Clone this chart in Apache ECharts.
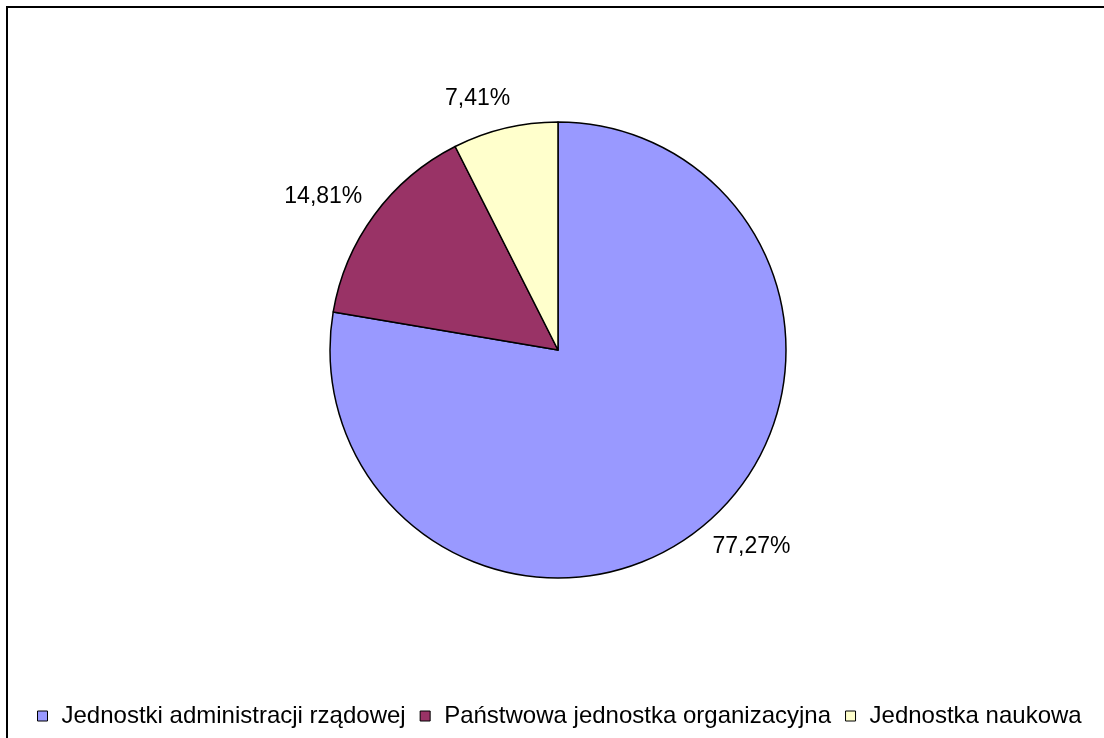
<!DOCTYPE html>
<html>
<head>
<meta charset="utf-8">
<script src="https://cdn.jsdelivr.net/npm/echarts@6/dist/echarts.min.js"></script>
<style>
html,body{margin:0;padding:0;background:#fff;}
#chart{width:1104px;height:738px;}
</style>
</head>
<body>
<div id="chart"></div>
<script>
const categories = ['Jednostki administracji rządowej', 'Państwowa jednostka organizacyjna', 'Jednostka naukowa'];
const values = [77.27, 14.81, 7.41];
const colors = ['#9999FF', '#993366', '#FFFFCC'];

const chart = echarts.init(document.getElementById('chart'));
const FONT = '"Liberation Sans", Arial, sans-serif';

chart.setOption({
  animation: false,
  backgroundColor: '#ffffff',
  graphic: [{
    type: 'rect',
    shape: { x: 7, y: 7, width: 1300, height: 900 },
    style: { fill: 'none', stroke: '#000', lineWidth: 2 },
    silent: true
  }],
  legend: {
    left: 37,
    top: 704,
    padding: 0,
    itemWidth: 10,
    itemHeight: 10,
    itemGap: 14,
    icon: 'rect',
    itemStyle: { borderColor: '#000', borderWidth: 1 },
    textStyle: { fontFamily: FONT, fontSize: 24, color: '#000', padding: [0, 0, 0, 9] },
    data: categories
  },
  series: [{
    type: 'pie',
    center: [558, 350],
    radius: 228,
    startAngle: 90,
    clockwise: true,
    avoidLabelOverlap: false,
    itemStyle: { borderColor: '#000', borderWidth: 1.5 },
    emphasis: { disabled: true },
    label: {
      show: true,
      position: 'outside',
      fontFamily: FONT,
      fontSize: 23,
      color: '#000',
      padding: [6, 0, 0, 0],
      distanceToLabelLine: -12,
      formatter: p => p.value.toFixed(2).replace('.', ',') + '%'
    },
    labelLine: { show: false, length: 30, length2: 0 },
    data: categories.map((c, i) => ({ name: c, value: values[i], itemStyle: { color: colors[i] } }))
  }]
});
</script>
</body>
</html>
